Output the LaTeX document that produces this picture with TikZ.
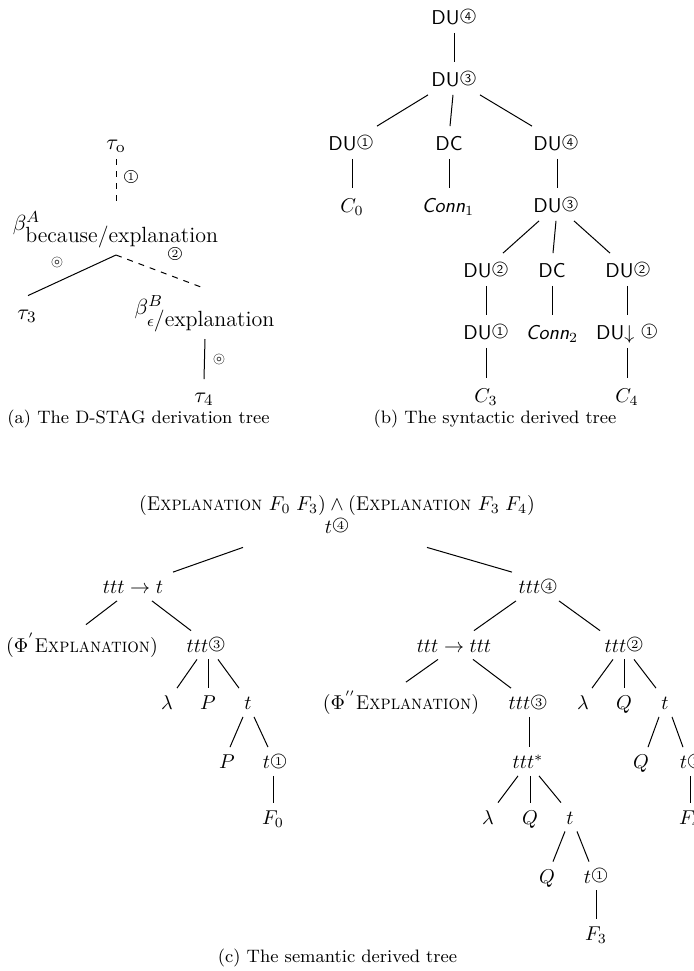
\documentclass[tikz,border=0pt]{standalone}
\usepackage{amsmath,amssymb}
\usepackage{graphicx}
\usetikzlibrary{calc}
\newcommand{\circnum}[1]{{\ooalign{\hfil\raisebox{1.7pt}{\fontsize{6}{6}\selectfont #1}\hfil\crcr\raisebox{1.6pt}{\fontsize{8}{9}\selectfont$\bigcirc$}}}}
\newcommand{\circnumA}[1]{{\ooalign{\hfil\raisebox{1.5pt}{\fontsize{5.5}{6}\selectfont #1}\hfil\crcr\raisebox{1.4pt}{\fontsize{7}{8}\selectfont$\bigcirc$}}}}
\newcommand{\cone}{\circnum{1}}
\newcommand{\ctwo}{\circnum{2}}
\newcommand{\cthree}{\circnum{3}}
\newcommand{\cfour}{\circnum{4}}
\newcommand{\expl}{\scalebox{0.91}[1]{\textsc{Explanation}}}
\newcommand{\tedge}[4]{\draw[lnk] ($(#1.south)+(#2,0)$) -- ($(#3.north)+(#4,0)$);}
\begin{document}
\begin{tikzpicture}[x=0.5pt,y=-0.5pt,
 cn/.style={inner sep=3pt,text height=7.5pt,text depth=0.5pt,anchor=base},
 phn/.style={cn,text height=10.5pt},
 sn/.style={font=\sffamily,inner sep=3.5pt,text height=8.25pt,text depth=0.75pt,anchor=base},
 an/.style={font=\fontsize{11}{13}\selectfont,inner sep=3.3pt},
 lab/.style={font=\fontsize{8}{9}\selectfont,inner sep=0pt},
 captxt/.style={font=\fontsize{9}{11}\selectfont,anchor=base,inner sep=0pt},
 lnk/.style={line width=0.5pt},
 dlnk/.style={line width=0.5pt,dashed},
]
\useasboundingbox (0,0) rectangle (693,971);

% ---------- (a) derivation tree ----------
\node[an,anchor=base] (t0) at (116,149) {$\tau_{\mathrm{o}}$};
\node[an,anchor=south] (bA) at (116,255) {$\beta^{A}_{\mbox{because/explanation}}$};
\node[an,anchor=base] (t3) at (27,319) {$\tau_3$};
\node[an,anchor=south] (bB) at (205,339) {$\beta^{B}_{\epsilon\mbox{/explanation}}$};
\node[an,anchor=north] (t4) at (204,386) {$\tau_4$};
\draw[dlnk] (t0.south) -- (bA.north);
\draw[lnk] (bA.south) -- ($(t3.north)+(1,-7)$);
\draw[dlnk] (bA.south) -- (bB.north);
\draw[lnk] (bB.south) -- ($(t4.north)+(0,-7)$);
\node[lab] (la1) at (131,178) {\circnumA{1}};
\node[lab] (la2) at (57,262) {$\circledcirc$};
\node[lab] (la3) at (175,255) {\circnumA{2}};
\node[lab] (la4) at (219,359) {$\circledcirc$};
\node[captxt] (capa) at (138.5,423) {(a) The D-STAG derivation tree};

% ---------- (b) syntactic derived tree ----------
\node[sn] (DU4a) at (454,24) {DU\cfour};
\node[sn] (DU3a) at (454,86) {DU\cthree};
\node[sn] (DU1a) at (351,150) {DU\cone};
\node[sn] (DCa) at (449,150) {DC};
\node[sn] (DU4b) at (556,150) {DU\cfour};
\node[sn] (C0) at (352,212) {$C_0$};
\node[sn] (Conn1) at (448,212) {\itshape Conn$_1$};
\node[sn] (DU3b) at (556,212) {DU\cthree};
\node[sn] (DU2a) at (486,277) {DU\ctwo};
\node[sn] (DCb) at (552,277) {DC};
\node[sn] (DU2b) at (628,277) {DU\ctwo};
\node[sn] (DU1b) at (486,339) {DU\cone};
\node[sn] (Conn2) at (552,339) {\itshape Conn$_2$};
\node[sn] (DUd) at (627,339) {DU$\downarrow$\ \cone};
\node[sn] (C3) at (486,402) {$C_3$};
\node[sn] (C4) at (627,402) {$C_4$};
\tedge{DU4a}{0}{DU3a}{0}
\tedge{DU3a}{-26}{DU1a}{26}
\tedge{DU3a}{-1}{DCa}{1}
\tedge{DU3a}{26}{DU4b}{-24}
\tedge{DU1a}{1}{C0}{0}
\tedge{DCa}{0}{Conn1}{1}
\tedge{DU4b}{1}{DU3b}{1}
\tedge{DU3b}{-17}{DU2a}{17}
\tedge{DU3b}{0}{DCb}{1}
\tedge{DU3b}{18}{DU2b}{-18}
\tedge{DU2a}{0}{DU1b}{0}
\tedge{DCb}{0}{Conn2}{0}
\tedge{DU2b}{-1}{DUd}{0}
\tedge{DU1b}{0}{C3}{0}
\tedge{DUd}{0}{C4}{0}
\node[captxt] (capb) at (495,423) {(b) The syntactic derived tree};

% ---------- (c) semantic derived tree ----------
\node[cn] (root) at (337,510) {$(\expl\ F_0\;F_3)\wedge(\expl\ F_3\;F_4)$};
\node[cn] (rootT) at (337,533) {$t$\cfour};
\node[cn] (tt1) at (133,593.5) {$ttt\rightarrow t$};
\node[cn] (ttt4) at (538,593.5) {$ttt$\cfour};
\node[phn] (phi1) at (82,652) {$(\Phi^{'}\expl)$};
\node[cn] (ttt3a) at (206,652) {$ttt$\cthree};
\node[cn] (tt2) at (454,652) {$ttt\rightarrow ttt$};
\node[cn] (ttt2) at (624,652) {$ttt$\ctwo};
\node[cn] (lam1) at (167,709.5) {$\lambda$};
\node[cn] (P1) at (208,709.5) {$P$};
\node[cn] (t1) at (248,709.5) {$t$};
\node[phn] (phi2) at (401,709.5) {$(\Phi^{''}\expl)$};
\node[cn] (ttt3b) at (528,709.5) {$ttt$\cthree};
\node[cn] (lam2) at (583,709.5) {$\lambda$};
\node[cn] (Q1) at (624,709.5) {$Q$};
\node[cn] (t2) at (665,709.5) {$t$};
\node[cn] (P2) at (227,768.5) {$P$};
\node[cn] (t1c) at (275,768.5) {$t$\cone};
\node[cn] (tstar) at (528,768.5) {$ttt^{*}$};
\node[cn] (Q2) at (641,768.5) {$Q$};
\node[cn] (t2c) at (692,768.5) {$t$\cone};
\node[cn] (F0) at (273,824) {$F_0$};
\node[cn] (lam3) at (488,824) {$\lambda$};
\node[cn] (Q3) at (530,824) {$Q$};
\node[cn] (t3n) at (570,824) {$t$};
\node[cn] (F4) at (690,824) {$F_4$};
\node[cn] (Q4) at (547,883) {$Q$};
\node[cn] (t3c) at (596,883) {$t$\cone};
\node[cn] (F3) at (596,940) {$F_3$};
\draw[lnk] ($(rootT.south)+(-94,7)$) -- ($(tt1.north)+(40,0)$);
\draw[lnk] ($(rootT.south)+(90,7)$) -- ($(ttt4.north)+(-26,0)$);
\tedge{tt1}{-16}{phi1}{4}
\tedge{tt1}{19}{ttt3a}{-15}
\tedge{ttt4}{-22}{tt2}{20}
\tedge{ttt4}{21}{ttt2}{-24}
\tedge{ttt3a}{-9}{lam1}{10}
\tedge{ttt3a}{2}{P1}{0}
\tedge{ttt3a}{12}{t1}{-9}
\tedge{t1}{-5}{P2}{3}
\tedge{t1}{6}{t1c}{-7}
\tedge{t1c}{-2}{F0}{0}
\tedge{tt2}{-16}{phi2}{5}
\tedge{tt2}{19}{ttt3b}{-17}
\tedge{ttt2}{-11}{lam2}{9}
\tedge{ttt2}{0}{Q1}{0}
\tedge{ttt2}{10}{t2}{-9}
\tedge{t2}{-6}{Q2}{7}
\tedge{t2}{7}{t2c}{-9}
\tedge{t2c}{-2}{F4}{0}
\tedge{ttt3b}{1}{tstar}{1}
\tedge{tstar}{-10}{lam3}{10}
\tedge{tstar}{2}{Q3}{0}
\tedge{tstar}{11}{t3n}{-9}
\tedge{t3n}{-5}{Q4}{6}
\tedge{t3n}{7}{t3c}{-7}
\tedge{t3c}{0}{F3}{0}
\node[captxt] (capc) at (337.5,962) {(c) The semantic derived tree};
\end{tikzpicture}
\end{document}
